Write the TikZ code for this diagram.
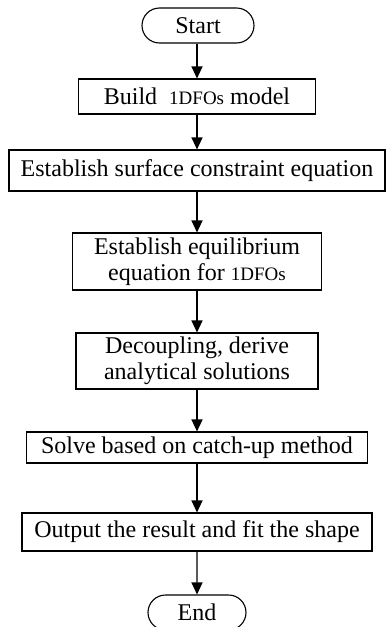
\documentclass[tikz,border=0pt]{standalone}
\usepackage{fontspec}
\setmainfont{Liberation Serif}
\usetikzlibrary{arrows.meta,shapes.misc}
\newcommand\dfo[1]{{\fontsize{19}{20}\selectfont #1}}
\begin{document}
\begin{tikzpicture}[x=1pt,y=-1pt,
  every node/.style={inner sep=0pt,line width=1.1pt,align=center,
    font=\fontsize{24}{25.5}\selectfont},
  stepbox/.style={draw,rectangle,minimum width=#1},
  term/.style={draw,rounded rectangle,minimum width=#1,minimum height=35pt},
  arr/.style={line width=1.1pt,-{Triangle[width=11pt,length=12pt]}}]
\useasboundingbox (0,0) rectangle (386,627);
\node[term=112] (start) at (198,25.5) {Start};
\node[stepbox=237,minimum height=35pt] (build) at (197,96.5) {Build\ \ \dfo{1DFOs} model};
\node[stepbox=376,minimum height=41pt] (surf) at (197,170.5) {Establish surface constraint equation};
\node[stepbox=249,minimum height=57pt] (equil) at (197,261.5) {Establish equilibrium\\equation for \dfo{1DFOs}};
\node[stepbox=242,minimum height=56pt] (decoup) at (197,361) {Decoupling, derive\\analytical solutions};
\node[stepbox=341,minimum height=31pt] (solve) at (197,447.5) {Solve based on catch-up method};
\node[stepbox=350,minimum height=38pt] (out) at (197,532) {Output the result and fit the shape};
\node[term=98] (end) at (197,612.5) {End};
\draw[arr] (start.south -| build.north) -- (build.north);
\draw[arr] (build) -- (surf);
\draw[arr] (surf) -- (equil);
\draw[arr] (equil) -- (decoup);
\draw[arr] (decoup) -- (solve);
\draw[arr] (solve) -- (out);
\draw[arr] (out) -- (end);
\end{tikzpicture}
\end{document}
